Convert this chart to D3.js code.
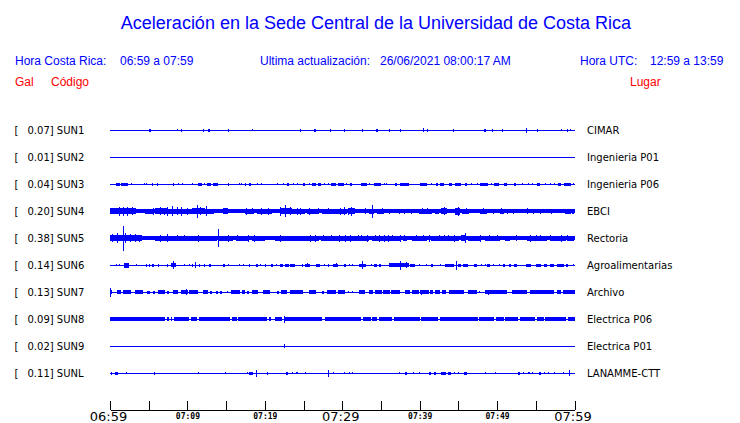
<!DOCTYPE html>
<html><head><meta charset="utf-8">
<script src="https://cdn.jsdelivr.net/npm/d3@7"></script>
<style>body{margin:0;background:#fff}svg{display:block}</style>
</head><body>
<svg id="c" width="740" height="423"></svg>
<script>
// ---------------- data ----------------
const codes  = ["SUN1","SUN2","SUN3","SUN4","SUN5","SUN6","SUN7","SUN8","SUN9","SUNL"];
const peakGal = ["0.07","0.01","0.04","0.20","0.38","0.14","0.13","0.09","0.02","0.11"];
const places = ["CIMAR","Ingenieria P01","Ingenieria P06","EBCI","Rectoria","Agroalimentarias","Archivo","Electrica P06","Electrica P01","LANAMME-CTT"];
// continuous noise floor (gal) per station
const noiseFloor = [0,0,0,0.05,0.05,0,0,0,0,0];
// minute offsets of the 5-minute ticks and their labels
const tickMinutes = [0,5,10,15,20,25,30,35,40,45,50,55,60];
const tickLabels  = ["06:59","","07:09","","07:19","","07:29","","07:39","","07:49","","07:59"];
const majorTicks  = ["06:59","07:29","07:59"];
// bursts: [start minute, end minute, half-amplitude gal]
const sun1 = [[5.1,5.3,0.045],[8.6,8.6,0.02],[9.2,9.2,0.035],[12.0,12.1,0.04],[12.7,12.9,0.045],[15.3,15.3,0.035],[18.3,18.3,0.02],[24.6,24.6,0.035],[26.4,26.6,0.045],[28.4,28.4,0.035],[30.2,30.2,0.035],[32.6,32.6,0.035],[34.4,34.6,0.04],[36.1,36.1,0.035],[37.4,37.4,0.035],[40.4,40.4,0.05],[40.9,40.9,0.035],[44.3,44.3,0.035],[48.3,48.5,0.04],[49.4,49.4,0.035],[50.6,50.6,0.035],[53.7,53.8,0.07],[55.1,55.2,0.035],[58.2,58.2,0.03],[59.0,59.0,0.035],[59.4,59.4,0.03]];
const sun2 = [];
const sun3 = [[0.78,1.29,0.04],[1.42,2.28,0.04],[2.76,2.76,0.03],[4.44,4.44,0.03],[4.66,4.66,0.025],[5.39,5.39,0.035],[6.03,6.03,0.035],[8.1,8.1,0.035],[8.75,8.75,0.03],[9.35,9.35,0.03],[10.6,10.6,0.02],[11.4,11.9,0.035],[12.15,12.15,0.03],[12.5,13.06,0.04],[13.3,13.9,0.035],[15.3,15.3,0.04],[16.6,16.6,0.03],[16.9,16.9,0.03],[17.4,17.5,0.035],[18.0,18.2,0.04],[19.0,19.0,0.02],[19.5,19.5,0.02],[21.6,21.6,0.03],[22.4,22.4,0.03],[22.8,23.1,0.04],[23.6,23.6,0.03],[24.1,24.1,0.03],[24.9,25.2,0.035],[25.7,25.7,0.03],[26.1,26.6,0.04],[26.9,27.3,0.035],[27.6,27.6,0.03],[28.1,28.1,0.03],[28.6,29.2,0.035],[29.5,30.3,0.035],[30.5,30.5,0.03],[30.95,31.25,0.035],[32.45,33.2,0.04],[33.5,33.5,0.025],[34.05,35.0,0.04],[35.35,35.35,0.03],[35.7,35.7,0.02],[36.85,37.1,0.035],[37.5,38.7,0.04],[40.1,41.0,0.04],[41.5,41.5,0.03],[42.1,42.3,0.035],[42.6,43.1,0.035],[43.8,44.2,0.035],[44.5,45.3,0.04],[45.8,46.0,0.035],[46.6,46.6,0.03],[47.4,47.4,0.02],[47.85,48.85,0.04],[49.2,49.2,0.03],[49.6,50.2,0.035],[50.9,51.3,0.035],[52.15,52.45,0.035],[53.2,53.2,0.02],[54.0,54.0,0.03],[54.5,54.5,0.03],[55.1,55.5,0.04],[56.2,56.2,0.03],[56.8,56.8,0.025],[57.4,57.4,0.03],[57.85,58.2,0.035],[58.6,59.5,0.04],[59.8,59.8,0.03]];
const sun4 = [[0,3.4,0.08],[1.1,1.1,0.13],[1.7,1.8,0.14],[2.2,2.2,0.13],[2.9,2.9,0.12],[3.4,4.5,0.06],[4.5,5.6,0.07],[5.5,5.5,0.11],[5.8,7.3,0.085],[6.4,6.4,0.12],[7.0,7.0,0.11],[7.4,7.4,0.14],[8.0,8.0,0.15],[7.5,10.6,0.07],[8.6,8.6,0.12],[9.2,9.2,0.13],[10.0,10.0,0.1],[10.6,12.3,0.085],[11.2,11.2,0.2],[11.6,11.6,0.12],[12.4,12.4,0.15],[12.3,13.4,0.075],[14.6,15.2,0.08],[16.5,16.5,0.06],[17.4,18.6,0.075],[17.6,17.6,0.1],[18.3,18.3,0.09],[19.0,20.9,0.07],[19.5,19.5,0.1],[20.4,20.4,0.1],[22.0,23.5,0.085],[22.0,22.0,0.14],[22.6,22.6,0.18],[23.2,23.2,0.12],[23.5,25.2,0.075],[24.1,24.1,0.11],[24.6,24.6,0.1],[25.4,27.0,0.07],[25.7,25.7,0.1],[26.9,26.9,0.09],[27.4,30.6,0.07],[28.2,28.2,0.09],[29.7,29.7,0.1],[30.2,30.2,0.12],[30.8,31.7,0.09],[30.8,30.8,0.1],[31.1,31.1,0.13],[31.9,32.3,0.06],[32.9,32.9,0.09],[33.0,33.2,0.06],[33.5,34.2,0.07],[33.9,33.9,0.2],[34.5,35.4,0.07],[35.1,35.1,0.09],[36.0,36.0,0.07],[37.3,37.3,0.07],[38.0,38.0,0.07],[38.9,38.9,0.07],[39.9,41.6,0.07],[40.3,40.3,0.08],[41.0,41.0,0.08],[42.0,42.5,0.065],[42.7,43.5,0.09],[43.1,43.1,0.12],[44.6,45.3,0.1],[44.9,44.9,0.14],[45.5,46.4,0.07],[46.0,46.0,0.09],[47.8,48.7,0.07],[48.2,48.2,0.09],[49.5,49.5,0.07],[50.4,50.9,0.07],[50.5,50.5,0.09],[51.3,51.3,0.07],[52.1,52.1,0.07],[53.9,53.9,0.08],[54.6,54.6,0.07],[55.6,55.6,0.07],[57.0,57.0,0.07],[58.8,59.6,0.065],[59.7,60,0.07]];
const sun5 = [[0,4.1,0.09],[0.3,0.3,0.12],[0.95,0.95,0.15],[1.64,1.64,0.38],[2.0,2.0,0.15],[2.6,2.6,0.12],[3.2,3.2,0.12],[3.8,3.8,0.1],[5.8,8.0,0.075],[6.4,6.4,0.1],[7.3,7.3,0.12],[8.0,10.3,0.07],[8.6,8.6,0.09],[9.5,9.5,0.09],[10.3,12.3,0.075],[11.4,11.4,0.1],[12.3,13.8,0.07],[13.9,13.9,0.28],[14.0,16.0,0.07],[15.2,15.2,0.1],[16.3,18.0,0.07],[16.4,16.4,0.09],[17.8,17.8,0.1],[18.3,20.0,0.065],[18.6,18.6,0.1],[21.3,23.5,0.075],[22.0,22.0,0.1],[23.5,27.0,0.075],[25.8,25.8,0.1],[26.5,26.5,0.1],[27.3,30.4,0.07],[27.5,27.5,0.09],[28.6,28.6,0.09],[29.6,29.6,0.1],[29.74,33.5,0.07],[30.3,30.3,0.1],[31.0,31.0,0.1],[32.0,32.0,0.09],[32.4,32.4,0.09],[33.2,33.2,0.1],[33.9,37.6,0.07],[34.2,34.2,0.09],[34.8,34.8,0.11],[35.4,35.4,0.1],[35.9,35.9,0.11],[36.4,36.4,0.09],[37.4,37.4,0.1],[37.9,38.4,0.065],[38.0,38.0,0.09],[39.0,41.0,0.065],[39.5,39.5,0.09],[40.4,40.4,0.09],[41.2,41.2,0.1],[41.4,45.0,0.07],[42.5,42.5,0.09],[43.1,43.1,0.09],[43.7,43.7,0.09],[44.4,44.4,0.1],[45.4,46.0,0.08],[45.8,45.8,0.15],[46.3,48.0,0.07],[47.8,47.8,0.1],[48.5,50.5,0.07],[49.0,49.0,0.09],[50.0,50.0,0.09],[51.0,51.6,0.065],[52.4,52.4,0.08],[53.9,56.5,0.075],[54.3,54.3,0.1],[55.0,55.0,0.09],[55.6,55.6,0.09],[56.8,56.8,0.09],[57.0,59.0,0.07],[58.2,58.2,0.1],[59.0,59.0,0.09],[59.2,60,0.075]];
const sun6 = [[0.8,0.8,0.03],[1.1,1.1,0.03],[1.8,2.45,0.075],[3.3,3.3,0.02],[4.6,4.6,0.035],[5.0,5.0,0.035],[5.4,5.7,0.035],[6.2,6.2,0.035],[7.4,7.4,0.035],[7.9,8.5,0.06],[8.15,8.15,0.12],[9.5,9.5,0.03],[10.2,10.2,0.03],[10.6,10.6,0.035],[11.0,11.0,0.08],[11.55,11.55,0.035],[12.1,12.1,0.035],[12.8,13.1,0.035],[14.65,14.95,0.035],[15.2,15.2,0.03],[16.7,16.7,0.03],[17.15,17.15,0.03],[18.0,18.0,0.035],[18.8,19.1,0.035],[19.4,19.4,0.03],[20.0,20.0,0.035],[20.8,21.1,0.035],[21.5,21.5,0.02],[22.0,22.4,0.035],[22.6,23.1,0.035],[23.3,23.9,0.035],[24.8,24.8,0.035],[25.2,25.9,0.04],[25.4,25.4,0.05],[26.6,27.15,0.035],[27.6,27.6,0.03],[28.1,28.1,0.035],[28.8,29.4,0.04],[29.2,29.2,0.06],[30.2,30.5,0.035],[30.9,30.9,0.03],[31.3,31.3,0.03],[32.2,33.1,0.04],[32.5,32.5,0.12],[33.7,33.7,0.03],[34.05,34.4,0.035],[34.8,35.0,0.035],[36.1,37.1,0.05],[36.6,36.6,0.06],[37.5,37.5,0.14],[37.1,38.6,0.055],[38.2,38.2,0.08],[38.8,39.4,0.035],[39.95,39.95,0.03],[40.8,40.8,0.03],[41.5,41.7,0.035],[42.6,42.6,0.02],[43.3,44.4,0.04],[44.65,44.65,0.13],[44.9,45.3,0.035],[45.6,46.3,0.04],[47.0,47.4,0.035],[47.9,47.9,0.03],[48.4,48.4,0.03],[48.7,49.05,0.035],[49.5,49.5,0.03],[50.2,50.2,0.03],[50.8,51.1,0.035],[51.6,51.8,0.035],[52.2,52.6,0.035],[53.75,54.4,0.035],[55.0,55.6,0.035],[56.1,56.45,0.035],[56.8,57.3,0.035],[57.75,58.6,0.035],[58.9,59.2,0.035],[59.8,59.8,0.03]];
const sun7 = [[0,0.3,0.06],[0.05,0.05,0.13],[0.85,1.4,0.05],[1.7,2.7,0.05],[3.2,4.2,0.05],[4.75,4.75,0.04],[4.95,5.2,0.04],[5.5,5.7,0.04],[6.25,7.1,0.05],[7.3,7.5,0.04],[8.1,8.75,0.05],[9.2,10.1,0.05],[9.8,9.8,0.08],[10.2,11.4,0.05],[12.05,12.7,0.05],[12.9,13.2,0.04],[13.7,14.0,0.04],[14.2,14.5,0.04],[15.1,15.1,0.03],[15.6,16.8,0.05],[17.0,17.45,0.05],[17.7,17.9,0.04],[18.3,19.1,0.05],[19.8,20.7,0.05],[21.6,21.9,0.04],[22.1,22.85,0.05],[23.3,25.0,0.05],[25.7,26.6,0.05],[27.4,27.6,0.04],[28.0,29.1,0.05],[29.4,30.3,0.05],[30.7,30.7,0.03],[31.3,31.3,0.03],[32.2,33.0,0.05],[33.4,33.9,0.05],[34.2,35.1,0.05],[35.25,36.1,0.05],[36.3,37.5,0.05],[38.1,38.8,0.05],[39.0,39.9,0.05],[40.2,40.2,0.07],[40.0,41.2,0.05],[41.3,41.7,0.05],[42.0,42.7,0.05],[42.9,43.45,0.05],[43.75,45.7,0.05],[46.3,47.4,0.05],[47.6,47.6,0.03],[48.5,49.6,0.05],[48.8,48.8,0.07],[49.65,51.3,0.05],[51.9,52.4,0.05],[52.5,53.9,0.05],[54.2,57.3,0.05],[57.7,58.2,0.05],[58.5,60,0.05]];
const sun8 = [[0,0.6,0.055],[0.7,7.2,0.055],[7.4,7.7,0.055],[7.9,8.0,0.05],[8.3,10.3,0.055],[10.5,11.3,0.055],[11.5,15.5,0.055],[15.7,16.3,0.055],[16.5,20.3,0.055],[20.6,20.9,0.05],[21.3,22.2,0.055],[22.45,22.45,0.1],[22.6,25.0,0.055],[25.1,27.4,0.055],[27.8,32.4,0.055],[32.7,33.7,0.055],[33.9,34.6,0.055],[34.8,36.5,0.055],[36.7,40.0,0.055],[40.2,42.4,0.055],[42.6,47.5,0.055],[47.7,49.6,0.055],[49.8,50.8,0.055],[51.0,52.7,0.055],[52.9,54.9,0.055],[55.1,56.0,0.055],[56.2,58.9,0.055],[59.1,60,0.055]];
const sun9 = [[22.45,22.45,0.05]];
const sunL = [[0.1,0.1,0.04],[0.65,1.0,0.04],[2.1,2.1,0.02],[5.65,5.65,0.035],[11.4,11.4,0.025],[14.8,14.8,0.03],[17.7,17.7,0.02],[18.0,18.5,0.04],[18.8,18.8,0.11],[20.3,20.3,0.035],[22.75,23.05,0.035],[23.5,23.5,0.03],[24.05,24.35,0.03],[25.25,25.25,0.03],[28.15,28.15,0.1],[28.8,28.8,0.02],[30.26,30.26,0.02],[30.9,30.9,0.03],[31.25,31.25,0.02],[37.3,37.3,0.03],[38.05,38.35,0.04],[39.1,39.1,0.02],[39.9,39.9,0.02],[41.2,41.4,0.035],[41.8,42.0,0.035],[42.7,43.3,0.04],[43.6,43.96,0.035],[44.4,44.4,0.03],[44.9,44.9,0.03],[45.7,46.1,0.04],[48.4,48.4,0.03],[49.7,49.7,0.02],[52.7,53.0,0.035],[53.4,53.4,0.03],[54.0,54.2,0.03],[54.5,54.5,0.03],[55.4,55.6,0.035],[56.0,56.0,0.02],[56.55,56.55,0.02],[57.3,57.3,0.03],[58.5,58.5,0.02],[59.35,59.35,0.08]];
const bursts = [sun1,sun2,sun3,sun4,sun5,sun6,sun7,sun8,sun9,sunL];

// ---------------- drawing ----------------
const BLUE = "#0000ff", RED = "#ff0000";
const svg = d3.select("#c");
const HF = "'Liberation Sans', Arial, sans-serif";

svg.append("text").attr("x",376).attr("y",29).attr("text-anchor","middle")
  .attr("font-family",HF).attr("font-size",18).attr("fill",BLUE)
  .text("Aceleración en la Sede Central de la Universidad de Costa Rica");

const hdr = [
  [15,"Hora Costa Rica:",BLUE],[120,"06:59 a 07:59",BLUE],
  [260,"Ultima actualización:",BLUE],[380,"26/06/2021 08:00:17 AM",BLUE],
  [580,"Hora UTC:",BLUE],[650,"12:59 a 13:59",BLUE]];
svg.selectAll("text.hdr").data(hdr).join("text").attr("class","hdr")
  .attr("x",d=>d[0]).attr("y",65).attr("font-family",HF).attr("font-size",12)
  .attr("fill",d=>d[2]).text(d=>d[1]);
const sub = [[15,"Gal"],[51,"Código"],[630,"Lugar"]];
svg.selectAll("text.sub").data(sub).join("text").attr("class","sub")
  .attr("x",d=>d[0]).attr("y",86).attr("font-family",HF).attr("font-size",12)
  .attr("fill",RED).text(d=>d[1]);

const x = d3.scaleLinear().domain([0,60]).range([110,574.5]);
const y = d3.scalePoint().domain(codes).range([130,373]);
const a = d3.scaleLinear().domain([0,0.38]).range([0,12]);
const up = v => Math.round(a(v)), down = v => Math.floor(a(v));

const rows = svg.selectAll("g.row").data(codes).join("g").attr("class","row")
  .attr("transform",d=>`translate(0,${Math.round(y(d))})`);
const LF = "'DejaVu Sans', sans-serif";
rows.append("text").attr("x",14.5).attr("y",4).attr("font-family",LF).attr("font-size",10)
  .attr("fill","#000").text("[");
rows.append("text").attr("x",27.5).attr("y",4).attr("font-family",LF).attr("font-size",10)
  .attr("fill","#000").text((d,i)=>`${peakGal[i]}] ${d}`);
rows.append("text").attr("x",587).attr("y",4).attr("font-family",LF).attr("font-size",10)
  .attr("fill","#000").text((d,i)=>places[i]);

rows.each(function(code,i){
  const g = d3.select(this).append("g").attr("shape-rendering","crispEdges").attr("fill",BLUE);
  const nf = noiseFloor[i];
  g.append("rect").attr("x",x(0)).attr("width",x(60)-x(0))
    .attr("y",-up(nf)).attr("height",up(nf)+down(nf)+1);
  g.selectAll("rect.b").data(bursts[i]).join("rect").attr("class","b")
    .attr("x",d=>Math.round(x(d[0])))
    .attr("width",d=>Math.max(1,Math.round(x(d[1])-x(d[0]))))
    .attr("y",d=>-up(d[2]))
    .attr("height",d=>up(d[2])+down(d[2])+1);
});

// time axis
const axis = d3.axisBottom(x).tickValues(tickMinutes).tickSizeInner(-9).tickSizeOuter(0)
  .tickPadding(0).tickFormat((d,i)=>tickLabels[i]);
const ax = svg.append("g").attr("transform","translate(0,409.5)").call(axis);
ax.select(".domain").attr("stroke","#000").attr("shape-rendering","crispEdges");
ax.selectAll(".tick line").attr("stroke","#000").attr("shape-rendering","crispEdges");
const isMajor = (d,i)=>majorTicks.includes(tickLabels[i]);
ax.selectAll(".tick text").attr("fill","#000")
  .attr("font-family",(d,i)=>isMajor(d,i)?"'DejaVu Sans', sans-serif":"'DejaVu Sans Mono', monospace")
  .attr("font-weight",(d,i)=>isMajor(d,i)?"normal":"bold")
  .attr("font-size",(d,i)=>isMajor(d,i)?13:8)
  .attr("dx",(d,i)=>isMajor(d,i)?-2:0)
  .attr("dy",null)
  .attr("y",(d,i)=>isMajor(d,i)?11.5:9);
</script>
</body></html>
